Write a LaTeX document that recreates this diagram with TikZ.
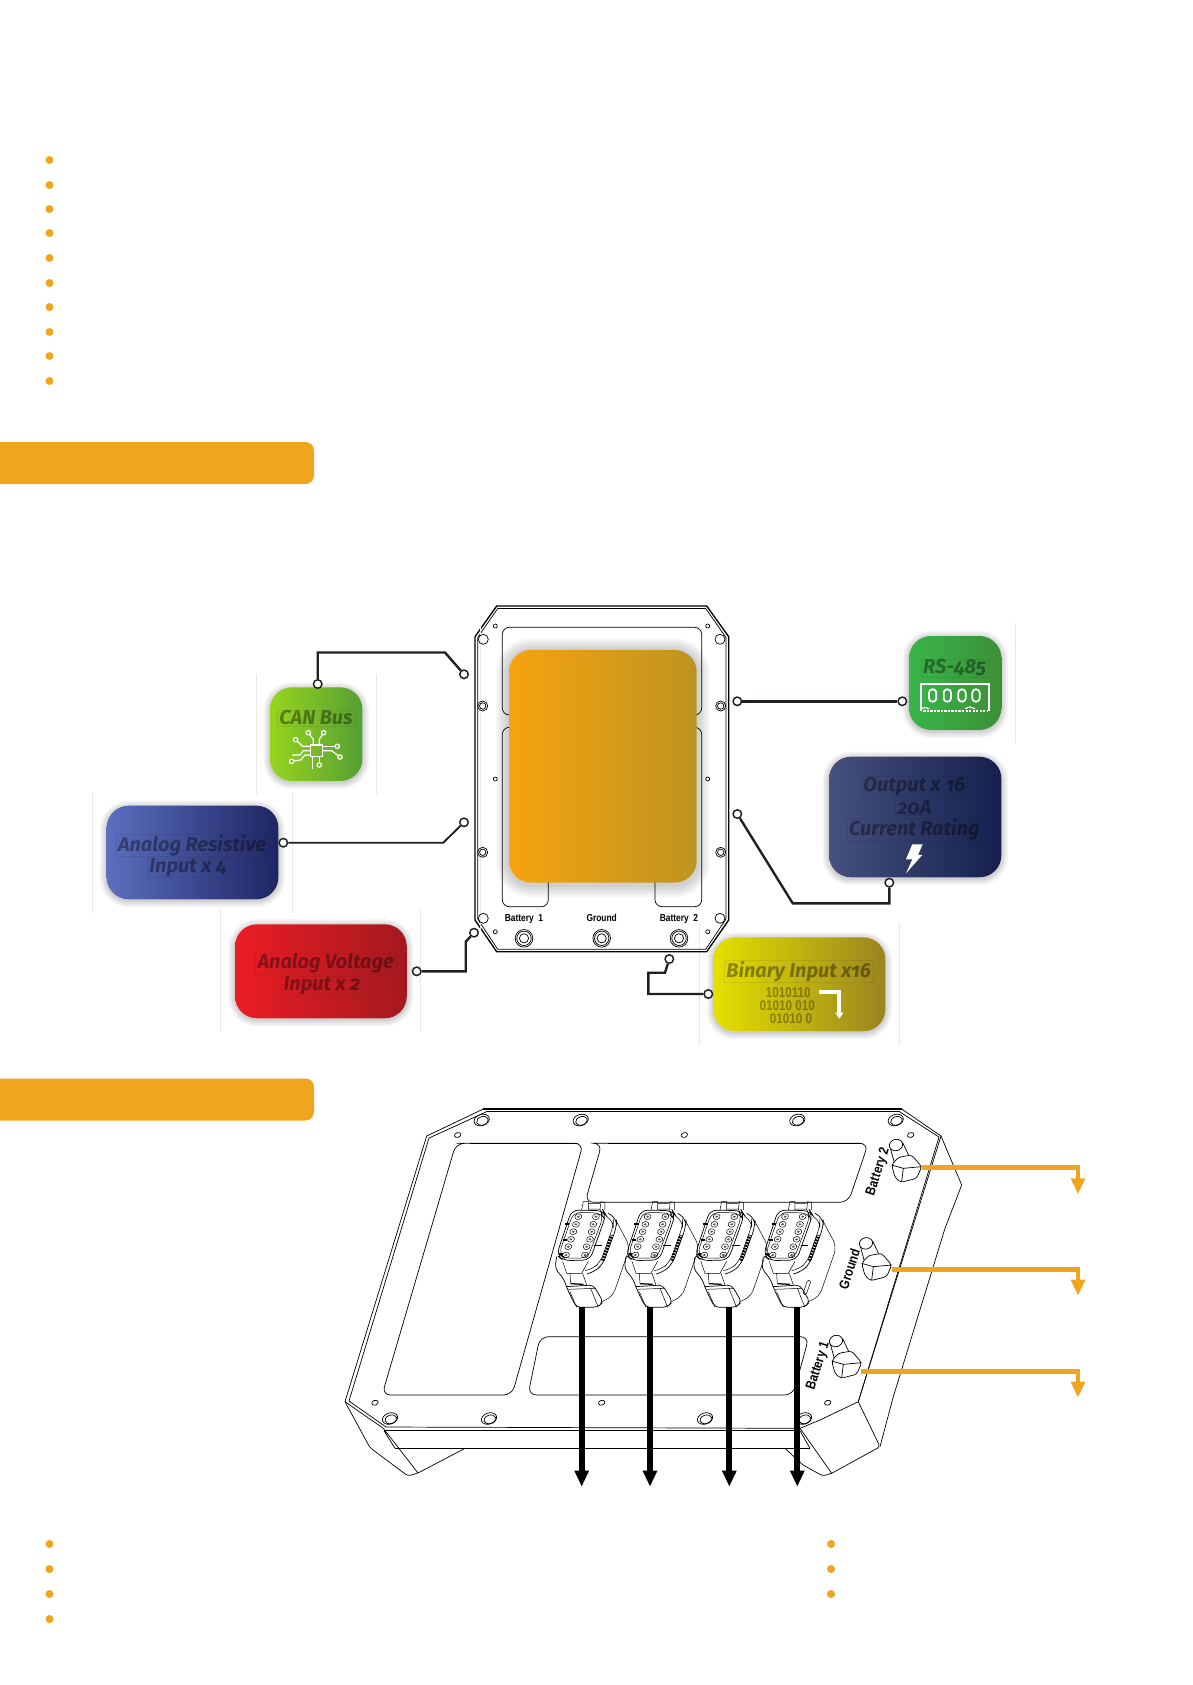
\documentclass[tikz,border=0pt]{standalone}
\usepackage{fontspec}
\setmainfont[Numbers=OldStyle]{Fira Sans}
\newfontfamily\cadfont[FakeStretch=.83]{Liberation Sans}
\usetikzlibrary{arrows.meta,positioning,calc}
\newcommand{\px}{0.025cm}
\definecolor{Ink}{HTML}{231F20}
\definecolor{Bar}{HTML}{F0A51E}
\definecolor{Faint}{HTML}{E8E8E8}
\tikzset{
  shadowring/.style={preaction={draw=black,draw opacity=.04,line width=#1*\px,transform canvas={yshift=-1pt}}},
  softshadow/.style={shadowring=13,shadowring=10,shadowring=7,shadowring=4,shadowring=2},
  panel/.style={rounded corners=15.6pt,inner sep=0pt,softshadow},
  canbox/.style={panel,left color=CanL,right color=CanR,minimum width=92.3*\px,minimum height=93.7*\px},
  rsbox/.style={panel,left color=RsL,right color=RsR,minimum width=92.3*\px,minimum height=94*\px},
  resbox/.style={panel,left color=ResL,right color=ResR,minimum width=171.7*\px,minimum height=93.6*\px},
  voltbox/.style={panel,left color=VoltL,right color=VoltR,minimum width=171.7*\px,minimum height=94*\px},
  binbox/.style={panel,left color=BinL,right color=BinR,minimum width=172*\px,minimum height=94*\px},
  outbox/.style={panel,left color=OutL,right color=OutR,minimum width=172.3*\px,minimum height=120.6*\px},
  boxlabel/.style={font=\fontsize{14.2}{16}\selectfont\bfseries\itshape,text=black,text opacity=.38,draw=black,draw opacity=.07,line width=.3pt,inner xsep=1.5pt,inner ysep=.5pt,yshift=-1.3pt},
  bitlabel/.style={font=\cadfont\bfseries\fontsize{10}{11}\selectfont,text=black,text opacity=.33,inner sep=0pt},
  cadlabel/.style={font=\cadfont\bfseries\fontsize{7.2}{8}\selectfont,text=black,inner sep=0pt},
  studlabel/.style={font=\cadfont\bfseries\fontsize{9.8}{10}\selectfont,text=black,inner sep=0pt,rotate=72},
  pin/.style={circle,draw=Ink,fill=white,line width=1.05pt,minimum size=8.5*\px,inner sep=0pt},
  wire/.style={draw=Ink,line width=1.7pt},
  devline/.style={draw=black,line width=.5pt},
  heavyline/.style={draw=black,line width=.95pt},
  thinline/.style={draw=black,line width=.35pt},
  icon/.style={draw=white,line width=.85pt},
  dot/.style={circle,fill=Bar,minimum size=8*\px,inner sep=0pt},
  headbar/.style={fill=Bar,rounded corners=6pt,minimum width=334*\px,minimum height=42*\px,inner sep=0pt},
  blackarr/.style={-{Triangle[length=16*\px,width=13.5*\px]},draw=black,line width=4pt},
  orangearr/.style={-{Triangle[length=16*\px,width=13.5*\px]},draw=Bar,line width=3.4pt}
}
\definecolor{CanL}{HTML}{97D51F}\definecolor{CanR}{HTML}{559F33}
\definecolor{RsL}{HTML}{39B54A}\definecolor{RsR}{HTML}{3C9037}
\definecolor{ResL}{HTML}{5B6FBF}\definecolor{ResR}{HTML}{1E2562}
\definecolor{VoltL}{HTML}{EC1C24}\definecolor{VoltR}{HTML}{A31A1F}
\definecolor{BinL}{HTML}{E5E000}\definecolor{BinR}{HTML}{9A8420}
\definecolor{OutL}{HTML}{46517F}\definecolor{OutR}{HTML}{141F4E}
\definecolor{CoreL}{HTML}{F7A30F}\definecolor{CoreM}{HTML}{DDA444}\definecolor{CoreR}{HTML}{BD9420}
\begin{document}
\begin{tikzpicture}[x=0.025cm,y=-0.025cm]
  \useasboundingbox (0,0) rectangle (1192,1685);
  \foreach \i/\yy in {1/160,2/185,3/209,4/233,5/258,6/283,7/307,8/332,9/356,10/381,11/1544,12/1569,13/1594,14/1619}
    \node[dot] (dot\i) at (49.5,\yy) {};
  \foreach \i/\yy in {1/1544,2/1569,3/1594}
    \node[dot] (rdot\i) at (831,\yy) {};
  \node[headbar] (barone) at (147,463) {};
  \node[headbar] (bartwo) at (147,1099.5) {};

  \foreach \xa/\ya/\yb in {256.7/674/795,376.7/674/795,92.7/792/913,292.7/792/913,220.7/910/1031.7,420.7/910/1031.7,1015.3/622.7/743,699.3/923/1045,899.3/923/1045}
    \draw[Faint,line width=.4pt] (\xa,\ya) -- (\xa,\yb);

  \draw[heavyline] (496.7,606) -- (706.7,606) -- (728.7,636.7) -- (728.7,920) -- (706.7,951.7) -- (496.7,951.7) -- (475,920) -- (475,636.7) -- cycle;
  \draw[devline] (497.7,608.5) -- (705.7,608.5) -- (726,637.5) -- (726,919) -- (705.7,949.3) -- (497.7,949.3) -- (477.7,919) -- (477.7,637.5) -- cycle;
  \draw[Faint,line width=.4pt] (480.7,625) -- (480.7,930);
  \draw[devline,rounded corners=5pt] (509,715) -- (502.3,715) -- (502.3,627.3) -- (701.7,627.3) -- (701.7,715) -- (695,715);
  \draw[devline,rounded corners=5pt] (509,727.3) -- (502.3,727.3) -- (502.3,906.7) -- (548.3,906.7) -- (548.3,880);
  \draw[devline,rounded corners=5pt] (695,727.3) -- (701.7,727.3) -- (701.7,906.7) -- (655,906.7) -- (655,880);
  \foreach \hx/\hy in {483.3/639.3,483.3/918.3,720/639.3,720/918.3}
    \draw[devline] (\hx,\hy) circle[radius=5];
  \foreach \hx/\hy in {482.7/706,482.7/852.3,720.7/706,720.7/852.3}
    {\draw[devline] (\hx,\hy) circle[radius=5];
     \draw[devline] (\hx,\hy) circle[radius=3.2];}
  \foreach \hx/\hy in {495.3/626,707.7/626,495.3/779,707.7/779,495.3/931.7,707.7/931.7}
    \draw[devline] (\hx,\hy) circle[radius=2];
  \foreach \hx/\i in {524/1,601.7/2,679/3}
    {\draw[devline] (\hx,938.3) circle[radius=8.8];
     \draw[devline] (\hx,938.3) circle[radius=7.2];
     \draw[devline] (\hx,938.3) circle[radius=4.6];}
  \node[cadlabel] (batone) at (524,919) {Battery\hspace{1.6pt} 1};
  \node[cadlabel] (gnd) at (601.7,918) {Ground};
  \node[cadlabel] (battwo) at (679,919) {Battery\hspace{1.6pt} 2};

  \node[minimum width=187.7*\px,minimum height=232.7*\px,rounded corners=15.6pt,inner sep=0pt,shadowring=26,shadowring=21,shadowring=16,shadowring=11,shadowring=6,left color=CoreL,middle color=CoreM,right color=CoreR] (core) at (602.85,766.3) {};

  \node[canbox] (can) at (316.2,734.2) {};
  \node[resbox] (res) at (192.5,852.5) {};
  \node[voltbox] (volt) at (320.9,971.3) {};
  \node[rsbox] (rs) at (955.2,683) {};
  \node[outbox] (out) at (915.2,817) {};
  \node[binbox] (bin) at (799.3,984.3) {};

  \node[pin] (canpin) at (317.7,684) {};
  \node[pin] (canend) at (464,674.3) {};
  \node[pin] (respin) at (283.3,842.7) {};
  \node[pin] (resend) at (464,822.3) {};
  \node[pin] (voltpin) at (416.7,971.3) {};
  \node[pin] (voltend) at (474,932.7) {};
  \node[pin] (binpin) at (708.3,994) {};
  \node[pin] (binend) at (669.3,959) {};
  \node[pin] (rspin) at (902.3,701.3) {};
  \node[pin] (rsend) at (737.3,701.3) {};
  \node[pin] (outpin) at (889.3,882.7) {};
  \node[pin] (outend) at (737.3,814) {};
  \coordinate (cana) at (445,652.5);
  \coordinate (resa) at (443.3,842.7);
  \coordinate (volta) at (465.7,941.7);
  \coordinate (bina) at (665,972.7);
  \coordinate (outa) at (792.7,903.3);
  \draw[wire] (canpin) |- (cana) -- (canend);
  \draw[wire,line width=1.35pt] (respin) -- (resa) -- (resend);
  \draw[wire] (voltpin) -| (volta) -- (voltend);
  \draw[wire] (binpin) -| (648.3,972.7) -- (bina) -- (binend);
  \draw[wire] (rspin) -- (rsend);
  \draw[wire] (outpin) |- (outa) -- (outend);

  \node[boxlabel] (cant) at (316,716) {CAN Bus};
  \node[boxlabel] (resa1) at (192,843.3) {Analog Resistive};
  \node[boxlabel] (resa2) at (188,866) {Input x 4};
  \node[boxlabel] (volt1) at (325.7,961.7) {Analog Voltage};
  \node[boxlabel] (volt2) at (322,984.3) {Input x 2};
  \node[boxlabel] (rst) at (954.7,666) {RS-485};
  \node[boxlabel] (out1) at (914.3,784.3) {Output x 16};
  \node[boxlabel] (out2) at (914.3,805.7) {20A};
  \node[boxlabel] (out3) at (914.3,827.7) {Current Rating};
  \node[boxlabel] (bint) at (798.7,969.3) {Binary Input x16};
  \node[bitlabel] (bit1) at (788.3,992.3) {1010110};
  \node[bitlabel] (bit2) at (787.3,1005.3) {01010 010};
  \node[bitlabel] (bit3) at (791,1018.3) {01010 0};

  \begin{scope}[shift={(80,660)},scale=.3333]
    \draw[icon,fill=none,line width=1pt] (691,255) rectangle (727,290);
    \draw[icon] (647,239) -- (668,259) -- (691,259);
    \draw[icon] (685,218) -- (700,238) -- (700,255);
    \draw[icon] (731,218) -- (718,238) -- (718,255);
    \draw[icon] (772,259) -- (727,259);
    \draw[icon] (780,291) -- (755,272) -- (727,272);
    \draw[icon] (718,315) -- (718,290);
    \draw[icon] (697,328) -- (697,290);
    \draw[icon] (635,304) -- (662,300) -- (675,285) -- (691,285);
    \draw[icon] (637,285) -- (660,285) -- (670,272) -- (691,272);
    \foreach \ix/\iy in {647/239,685/218,731/218,772/259,780/291,718/315,635/304}
      \draw[icon,fill=CanR!60!CanL] (\ix,\iy) circle[radius=6.5];
  \end{scope}
  \begin{scope}[shift={(680,610)},scale=.3333]
    \draw[icon,line width=1.3pt] (722,304) -- (722,222) -- (928,222) -- (928,304);
    \foreach \ix in {758,802,846,888}
      \draw[icon,line width=1.25pt,rounded corners=2.4pt] (\ix-11,238) rectangle (\ix+11,275);
    \draw[icon,line width=1.4pt,dash pattern=on 1.6pt off .9pt] (730,302) -- (925,302);
    \draw[icon,line width=.9pt] (722,296) -- (735,293) -- (748,296) (855,296) -- (870,291) -- (885,296);
    \fill[white] (697,703) -- (728,703) -- (714,735) -- (727,735) -- (678,790) -- (697,748) -- (678,748) -- cycle;
    \draw[icon,line width=2.8pt,-{Triangle[length=6*\px,width=8*\px]}] (416,1147) -- (478,1147) -- (478,1226);
  \end{scope}

  \begin{scope}
    \draw[devline] (483.3,1109) -- (426.7,1136) -- (345,1401.7) -- (383.3,1428.3);
    \draw[devline] (486,1112) -- (429,1138) -- (349,1401) -- (386,1427) -- (800,1428.3) -- (820,1420) -- (858.3,1401.7) -- (939,1137) -- (900,1112);
    \draw[heavyline] (483.3,1109) -- (901.7,1109);
    \draw[heavyline] (486,1111.5) -- (900,1111.5);
    \draw[devline] (901.7,1109) -- (941,1136) -- (858.3,1401.7);
    \draw[devline] (384,1430.7) -- (800,1430.7);
    \draw[devline] (395,1448.3) -- (810,1448.3);
    \draw[devline,rounded corners=2pt] (345,1401.7) -- (370,1447.7) -- (408,1476) -- (418,1473) -- (465,1448.3);
    \draw[devline] (384,1430.7) -- (395,1448.3) (383.3,1428.3) -- (418,1473);
    \draw[devline] (800,1430.7) -- (810,1448.3);
    \draw[devline,rounded corners=2pt] (858.3,1401.7) -- (880,1446.7) -- (831.7,1473.3) -- (823,1476) -- (803,1465) -- (785,1448.3);
    \draw[devline] (800,1428.3) -- (831.7,1473.3);
    \draw[devline] (941,1136) -- (961.7,1185) -- (945,1228.3) -- (893.3,1396.7) -- (880,1446.7);
    \draw[devline,rounded corners=6pt] (465,1143.3) -- (583.3,1143.3) -- (512,1395) -- (382,1395) -- (456,1143.3) -- cycle;
    \draw[heavyline] (470,1143.3) -- (578,1143.3);
    \draw[devline,rounded corners=6pt] (600,1143.3) -- (868.3,1143.3) -- (848.3,1202.3) -- (585,1202.3) -- (602,1143.3) -- cycle;
    \draw[heavyline] (608,1143.3) -- (862,1143.3);
    \draw[devline,rounded corners=6pt] (540,1336.7) -- (809,1336.7) -- (793,1395) -- (528,1395) -- cycle;
    \foreach \hx/\hy in {481.7/1120,580.7/1120,797.3/1120,895.7/1120,390/1418.5,489/1418.5,705/1418.5,804/1418.5}
      {\draw[devline] (\hx,\hy) circle[x radius=7.8,y radius=5.6,rotate=18];
       \draw[devline] (\hx+.8,\hy+.8) circle[x radius=6,y radius=4.2,rotate=18];}
    \foreach \hx/\hy in {457.7/1135,684.3/1135,910.7/1135,375/1402.7,601.7/1402.7,827.7/1402.7}
      \draw[devline] (\hx,\hy) circle[x radius=3.3,y radius=2.4,rotate=18];
  \end{scope}

  \foreach \cs in {0,208,415,620}
  {\begin{scope}[shift={(340+\cs/3,1100)},scale=.3333]
    \fill[white,rounded corners=6pt] (695,330) -- (798,335) -- (830,355) -- (870,440) -- (818,590) -- (772,622) -- (710,622) -- (670,540) -- (645,505) -- cycle;
    \draw[thinline] (725,330) -- (730,305) -- (745,305) -- (745,330) (780,330) -- (783,305) -- (795,308) -- (795,330) (745,310) -- (780,310) (745,327) -- (780,327);
    \draw[devline,rounded corners=5pt] (695,330) -- (790,332) -- (798,345) -- (750,480) -- (670,482) -- (650,465) -- cycle;
    \draw[thinline,rounded corners=5pt] (700,337) -- (785,339) -- (790,350) -- (743,474) -- (673,475) -- (657,462) -- cycle;
    \draw[devline,rounded corners=5pt] (805,340) -- (830,355) -- (830,380) -- (790,490) -- (765,515) -- (740,522);
    \draw[thinline,rounded corners=5pt] (800,350) -- (820,362) -- (820,378) -- (782,485) -- (757,508) -- (735,512);
    \draw[thinline,rounded corners=5pt] (830,365) -- (870,440) -- (818,590) -- (785,605);
    \draw[devline,rounded corners=3pt] (650,470) -- (645,505) -- (672,538) -- (680,562) -- (695,595) -- (710,622) -- (772,622) -- (790,606) -- (760,555) -- (678,560);
    \draw[thinline] (685,568) -- (765,565) (752,565) -- (775,622) (690,575) -- (710,622);
    \draw[thinline] (668,484) -- (680,520) -- (725,520) -- (745,484) (690,520) -- (692,550) (728,520) -- (740,555);
    \draw[black,line width=.9pt] (692,551) -- (730,553);
    \foreach \ax/\ay in {715/350,708/373,700/395,693/418,685/440,678/465,768/350,760/373,755/395,750/418,740/440,735/465}
      {\draw[thinline] (\ax,\ay) circle[x radius=10.5,y radius=8.5,rotate=15];
       \fill[black!65] (\ax,\ay) circle[x radius=5,y radius=3.5,rotate=15];}
    \draw[black,line width=.8pt] (675,372) -- (688,372) (668,420) -- (680,420) (658,462) -- (668,462) (762,437) -- (785,437);
    \draw[black,line width=2.4pt,dash pattern=on 1.3pt off .8pt] (788,482) -- (815,405);
  \end{scope}}
  \draw[thinline,rounded corners=1pt] (807.5,1280) -- (811,1281) -- (806,1295) -- (803,1294) -- cycle;

  \foreach \tx/\ty in {0/0,-90/295,-180/588}
  {\begin{scope}[shift={(760+\tx/3,1100+\ty/3)},scale=.3333]
    \draw[devline,fill=white] (390,140) -- (405,195) -- (455,185) -- (428,128) -- cycle;
    \draw[devline,fill=white] (408,135) circle[x radius=20,y radius=17,rotate=15];
    \draw[devline,fill=white,rounded corners=2pt] (395,195) -- (415,172) -- (455,165) -- (485,200) -- (470,235) -- (422,247) -- (405,232) -- cycle;
    \draw[devline] (395,195) -- (430,205) -- (485,200) (430,205) -- (425,246);
  \end{scope}}
  \node[studlabel] (stud2) at (878.3,1171.7) {Battery 2};
  \node[studlabel] (studg) at (849.3,1269) {Ground};
  \node[studlabel] (stud1) at (818.5,1366) {Battery 1};

  \coordinate (blka) at (581.7,1307.3);
  \coordinate (blkb) at (650,1307.3);
  \coordinate (blkc) at (729.3,1307.3);
  \coordinate (blkd) at (797.3,1307.3);
  \coordinate (blkat) at (581.7,1486.7);
  \coordinate (blkbt) at (650,1486.7);
  \coordinate (blkct) at (729.3,1486.7);
  \coordinate (blkdt) at (797.3,1486.7);
  \draw[blackarr] (blka) -- (blkat);
  \draw[blackarr] (blkb) -- (blkbt);
  \draw[blackarr] (blkc) -- (blkct);
  \draw[blackarr] (blkd) -- (blkdt);

  \coordinate (nuttwo) at (921.7,1167.3);
  \coordinate (nutgnd) at (891.7,1269.3);
  \coordinate (nutone) at (861,1371.7);
  \coordinate (tiptwo) at (1078,1194.3);
  \coordinate (tipgnd) at (1078,1295.7);
  \coordinate (tipone) at (1078,1397.7);
  \draw[orangearr] (nuttwo) -| (tiptwo);
  \draw[orangearr] (nutgnd) -| (tipgnd);
  \draw[orangearr] (nutone) -| (tipone);
\end{tikzpicture}
\end{document}
